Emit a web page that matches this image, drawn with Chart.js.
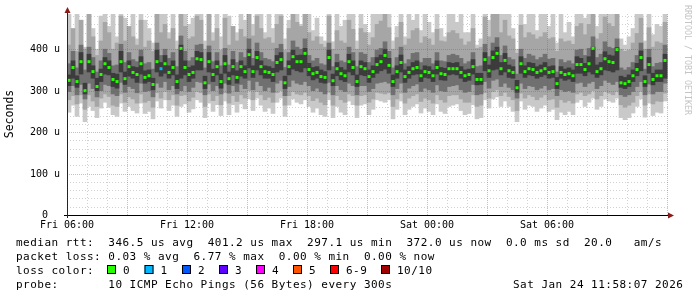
<!DOCTYPE html>
<html>
<head>
<meta charset="utf-8">
<script src="https://cdn.jsdelivr.net/npm/chart.js@4.4.1/dist/chart.umd.min.js"></script>
<style>
  html, body { margin: 0; padding: 0; background: #fff; }
  canvas { display: block; }
</style>
</head>
<body>
<canvas id="smokeChart" width="697" height="297"></canvas>
<script>
// one sample every 12 minutes, first one starts Fri 06:00 (values in microseconds)
const stepHours = 0.2;

const median = [
  325,356,322,370,300,370,346,310,339,365,
  356,327,322,370,329,358,344,339,365,332,
  336,315,370,353,365,344,356,322,402,356,
  339,344,377,375,319,370,339,358,322,365,
  329,358,332,358,346,387,346,380,358,346,
  344,339,368,375,319,358,382,370,370,390,
  351,341,344,334,332,380,324,353,341,336,
  370,356,322,358,353,334,346,363,370,385,
  361,322,346,368,334,344,353,356,336,346,
  344,336,356,341,339,353,353,353,344,336,
  339,358,327,327,375,348,380,390,353,373,
  348,344,307,365,346,353,351,344,348,353,
  344,346,317,344,339,341,336,363,363,351,
  365,402,346,353,377,370,368,399,319,317,
  322,336,351,380,322,363,327,336,336,373
];

// pings closest to the median
const coreLo = [
  312,330,308,340,292,345,330,300,322,340,
  338,310,306,345,315,335,330,320,340,318,
  322,302,345,335,342,330,338,305,330,338,
  322,330,350,350,305,345,322,338,306,342,
  315,338,318,335,330,355,332,350,338,330,
  330,322,345,350,305,338,352,348,345,355,
  336,326,330,320,318,350,312,336,326,322,
  345,338,310,338,336,320,332,342,348,352,
  342,310,330,345,320,330,338,340,322,332,
  330,322,340,326,325,338,340,338,330,322,
  325,340,314,315,348,332,350,352,338,345,
  332,330,296,342,332,338,336,330,334,338,
  330,332,305,330,325,328,322,342,342,336,
  345,340,332,338,350,348,345,350,308,305,
  310,322,336,348,310,342,314,322,322,330
];
const coreHi = [
  338,372,336,392,318,388,360,330,352,380,
  372,342,340,395,345,372,358,356,382,348,
  350,330,398,368,385,360,372,338,410,372,
  356,360,395,392,335,392,352,372,340,385,
  345,375,348,372,360,400,360,395,372,360,
  358,354,385,392,335,372,398,385,386,402,
  366,356,358,350,346,398,340,368,356,350,
  388,372,338,372,368,350,360,380,386,400,
  378,338,360,386,350,358,368,372,350,360,
  358,350,372,356,354,368,366,368,358,350,
  352,375,342,342,392,362,396,405,368,390,
  362,358,325,382,360,368,366,358,362,368,
  358,360,332,358,352,355,350,382,378,366,
  382,405,362,368,394,386,384,404,335,332,
  338,350,366,396,336,380,342,350,350,388
];

const darkLo = [
  298,312,290,315,280,318,305,285,300,315,
  312,292,288,320,296,310,305,295,318,298,
  300,285,318,308,322,302,312,292,300,312,
  298,308,322,320,290,316,300,312,292,318,
  294,312,298,315,305,325,302,322,312,300,
  308,296,318,325,288,310,325,318,315,322,
  312,300,306,298,292,320,290,312,302,298,
  318,312,290,312,312,298,305,318,320,322,
  318,290,305,318,296,306,312,316,298,306,
  302,296,314,300,298,310,312,314,302,296,
  298,315,290,292,322,306,325,328,310,318,
  308,302,282,318,305,312,310,302,306,312,
  302,305,288,302,298,300,296,318,320,310,
  318,322,305,312,325,320,315,322,290,286,
  290,298,310,322,290,316,292,298,298,318
];
const darkHi = [
  365,395,355,410,350,405,380,345,372,400,
  390,360,362,412,368,392,375,370,398,365,
  368,352,415,385,400,378,392,358,432,395,
  372,380,410,412,355,408,370,392,360,402,
  362,395,368,392,380,425,378,415,392,378,
  375,370,402,412,356,392,420,405,400,425,
  385,372,378,365,362,415,358,388,372,368,
  405,392,358,392,388,368,380,398,402,418,
  395,355,380,405,365,375,390,392,368,378,
  378,365,392,372,370,385,388,385,378,365,
  370,392,358,360,412,382,415,428,385,408,
  380,375,340,400,378,388,384,375,380,388,
  376,378,345,375,368,372,365,398,400,385,
  402,430,380,388,418,405,402,425,355,350,
  356,368,385,415,352,400,358,366,368,410
];

const midLo = [
  278,288,268,290,255,290,275,262,282,292,
  286,265,262,292,272,285,280,270,292,272,
  276,260,295,282,298,278,290,265,288,290,
  275,284,298,295,262,292,276,288,266,295,
  270,288,274,290,282,300,278,298,290,278,
  284,272,295,300,265,288,298,292,290,296,
  288,276,282,272,266,296,265,288,278,272,
  292,288,265,288,290,272,280,296,294,292,
  295,262,280,294,270,282,288,292,274,282,
  278,270,290,278,272,288,290,290,280,272,
  272,290,262,265,295,282,298,302,288,296,
  286,278,252,294,282,290,286,278,284,290,
  278,280,260,278,272,276,270,292,296,288,
  292,300,280,288,298,294,290,298,266,260,
  265,272,288,298,265,292,268,275,274,294
];
const midHi = [
  410,450,395,470,400,485,430,385,420,465,
  440,400,415,480,420,455,430,410,470,405,
  420,395,485,440,460,425,450,400,490,455,
  425,430,480,470,400,485,420,450,398,475,
  410,455,420,448,430,490,432,480,450,425,
  428,415,460,480,398,450,490,465,455,490,
  440,420,430,412,405,480,400,445,420,415,
  470,448,400,450,440,410,428,460,468,485,
  452,400,428,465,410,425,445,450,415,430,
  425,410,448,420,418,440,445,438,425,410,
  418,450,402,405,478,430,485,490,440,470,
  432,425,390,458,428,440,435,425,430,440,
  425,428,395,425,418,420,412,455,462,435,
  460,490,425,438,478,462,455,488,400,395,
  398,415,438,475,400,452,405,418,415,465
];

const outerLo = [
  248,265,238,270,225,262,252,235,258,272,
  260,242,238,270,250,262,252,246,270,245,
  250,232,275,258,278,252,265,238,262,268,
  248,256,278,272,235,270,250,266,240,275,
  242,266,248,268,256,280,252,282,265,250,
  258,245,272,282,238,265,280,272,268,278,
  262,248,258,242,238,278,235,262,248,242,
  275,266,235,265,268,242,255,278,275,272,
  278,232,255,275,242,255,262,268,246,258,
  250,242,268,250,245,262,265,268,252,242,
  245,266,232,235,278,258,280,285,262,275,
  262,250,225,275,255,265,262,250,258,265,
  250,255,230,248,242,250,242,272,278,262,
  272,282,255,262,280,275,272,282,235,230,
  235,246,262,280,236,270,240,248,246,275
];
const outerHi = [
  490,420,490,470,405,490,450,400,480,490,
  455,490,430,490,475,440,490,425,490,470,
  450,415,490,490,490,440,490,420,490,490,
  460,475,490,490,420,490,440,490,430,490,
  480,455,440,490,470,490,460,490,490,440,
  490,450,490,490,425,470,490,490,460,490,
  490,445,475,430,420,490,418,490,455,470,
  490,490,420,490,460,440,485,490,490,490,
  490,420,455,490,430,490,470,490,445,490,
  465,440,490,450,430,490,490,465,490,440,
  440,490,410,425,490,470,490,490,490,490,
  490,450,400,490,460,490,485,445,490,490,
  455,490,415,490,440,465,430,490,490,475,
  490,490,455,490,490,490,490,490,425,410,
  430,450,490,490,420,490,435,460,455,490
];

// samples that lost pings
const lossIndex = [23];
const lossPings = [1];

const xTicks = [0, 6, 12, 18, 24];
const xTickLabels = ['Fri 06:00', 'Fri 12:00', 'Fri 18:00', 'Sat 00:00', 'Sat 06:00'];
const yTicks = [0, 100, 200, 300, 400];
const yTickLabels = ['0', '100 u', '200 u', '300 u', '400 u'];

const lossLabels = ['0', '1', '2', '3', '4', '5', '6-9', '10/10'];
const lossColors = ['#26ff00', '#00b8ff', '#0059ff', '#5e00ff', '#ff00ff', '#ff5500', '#ff0000', '#a10000'];

const legendRtt = 'median rtt:  346.5 us avg  401.2 us max  297.1 us min  372.0 us now  0.0 ms sd  20.0   am/s';
const legendLoss = 'packet loss: 0.03 % avg  6.77 % max  0.00 % min  0.00 % now';
const legendProbe = 'probe:       10 ICMP Echo Pings (56 Bytes) every 300s';
const stamp = 'Sat Jan 24 11:58:07 2026';

const MONO = '"DejaVu Sans Mono", "Liberation Mono", monospace';

function band(lo, hi) {
    return lo.map((v, i) => ({ x: (i + 0.5) * stepHours, y: [v, hi[i]] }));
}

function monoText(ctx, str, x, y, adv) {
    for (let k = 0; k < str.length; k++) {
        ctx.fillText(str[k], x + k * adv, y);
    }
}

function drawGrid(chart, major) {
    const ctx = chart.ctx;
    const area = chart.chartArea;
    const xs = chart.scales.x;
    const ys = chart.scales.y;
    ctx.save();
    ctx.lineWidth = 1;
    ctx.setLineDash(major ? [1, 1] : [1, 2]);
    ctx.strokeStyle = major ? 'rgba(210,50,50,0.38)' : 'rgba(140,140,140,0.4)';
    for (let v = 20; v <= ys.max; v += 20) {
        if ((v % 100 === 0) !== major) continue;
        const y = Math.round(ys.getPixelForValue(v)) + 0.5;
        ctx.beginPath();
        ctx.moveTo(area.left, y);
        ctx.lineTo(area.right, y);
        ctx.stroke();
    }
    for (let h = 1; h <= xs.max; h += 1) {
        if ((h % 3 === 0) !== major) continue;
        const x = Math.round(xs.getPixelForValue(h)) + 0.5;
        ctx.beginPath();
        ctx.moveTo(x, area.top);
        ctx.lineTo(x, area.bottom);
        ctx.stroke();
    }
    ctx.restore();
}

const rrdDecor = {
    id: 'rrdDecor',
    beforeDatasetsDraw(chart) {
        drawGrid(chart, false);
    },
    afterDatasetsDraw(chart) {
        drawGrid(chart, true);
    },
    afterDraw(chart) {
        const ctx = chart.ctx;
        const area = chart.chartArea;
        const xs = chart.scales.x;
        const ys = chart.scales.y;
        ctx.save();

        // axes
        ctx.setLineDash([]);
        ctx.lineWidth = 1;
        ctx.strokeStyle = '#000';
        ctx.beginPath();
        ctx.moveTo(area.left - 3, area.bottom + 0.5);
        ctx.lineTo(area.right + 2, area.bottom + 0.5);
        ctx.stroke();
        ctx.strokeStyle = '#3a1c1c';
        ctx.beginPath();
        ctx.moveTo(area.left + 0.5, area.bottom + 3);
        ctx.lineTo(area.left + 0.5, area.top - 3);
        ctx.stroke();

        // arrows
        ctx.fillStyle = '#8b1a1a';
        ctx.beginPath();
        ctx.moveTo(area.left - 2.5, area.top - 1);
        ctx.lineTo(area.left + 3.5, area.top - 1);
        ctx.lineTo(area.left + 0.5, area.top - 7);
        ctx.closePath();
        ctx.fill();
        ctx.beginPath();
        ctx.moveTo(area.right, area.bottom - 2.5);
        ctx.lineTo(area.right, area.bottom + 3.5);
        ctx.lineTo(area.right + 6, area.bottom + 0.5);
        ctx.closePath();
        ctx.fill();

        // tick labels
        ctx.fillStyle = '#000';
        ctx.font = '10px ' + MONO;
        ctx.textBaseline = 'middle';
        ctx.textAlign = 'left';
        yTicks.forEach((v, i) => {
            const lab = yTickLabels[i].length < 5 ? yTickLabels[i].padStart(3) : yTickLabels[i];
            ctx.fillText(lab, 30, ys.getPixelForValue(v) + 0.5);
        });
        ctx.textAlign = 'center';
        ctx.textBaseline = 'alphabetic';
        xTicks.forEach((h, i) => {
            ctx.fillText(xTickLabels[i], xs.getPixelForValue(h), 227.5);
        });

        // axis title
        ctx.save();
        ctx.font = '11.5px ' + MONO;
        ctx.translate(10.5, 114);
        ctx.rotate(-Math.PI / 2);
        ctx.textAlign = 'center';
        ctx.textBaseline = 'middle';
        ctx.fillText('Seconds', 0, 0);
        ctx.restore();

        // watermark
        ctx.save();
        ctx.font = '8.3px ' + MONO;
        ctx.fillStyle = '#c4c4c4';
        ctx.translate(687, 5);
        ctx.rotate(Math.PI / 2);
        ctx.textAlign = 'left';
        ctx.textBaseline = 'middle';
        ctx.fillText('RRDTOOL / TOBI OETIKER', 0, 0);
        ctx.restore();

        // legend
        const adv = 7.1;
        ctx.font = '11px ' + MONO;
        ctx.textAlign = 'left';
        ctx.textBaseline = 'alphabetic';
        ctx.fillStyle = '#000';
        monoText(ctx, legendRtt, 16, 245.5, adv);
        monoText(ctx, legendLoss, 16, 259.5, adv);
        monoText(ctx, 'loss color:', 16, 273.5, adv);
        monoText(ctx, legendProbe, 16, 287.5, adv);
        monoText(ctx, stamp, 16 + 70 * adv, 287.5, adv);

        const boxX = [107, 144.5, 182, 219, 256, 293, 330, 381];
        lossLabels.forEach((lab, i) => {
            ctx.fillStyle = lossColors[i];
            ctx.fillRect(boxX[i], 265, 9, 9);
            ctx.strokeStyle = '#000';
            ctx.strokeRect(boxX[i] + 0.5, 265.5, 8, 8);
            ctx.fillStyle = '#000';
            monoText(ctx, lab, boxX[i] + 16, 273.5, adv);
        });

        ctx.restore();
    }
};

const ctx = document.getElementById('smokeChart').getContext('2d');
const smokeChart = new Chart(ctx, {
    type: 'bar',
    data: {
        datasets: [
            {
                type: 'line',
                label: 'median',
                data: median.map((v, i) => ({ x: (i + 0.5) * stepHours, y: v })),
                showLine: false,
                pointStyle: 'rect',
                pointRadius: 2.1,
                pointBorderWidth: 0,
                pointBackgroundColor: function(c) {
                    const k = lossIndex.indexOf(c.dataIndex);
                    return k >= 0 ? lossColors[lossPings[k]] : lossColors[0];
                },
                order: 0
            },
            { label: 'core', data: band(coreLo, coreHi), backgroundColor: '#3c3c3c', order: 1 },
            { label: 'inner', data: band(darkLo, darkHi), backgroundColor: '#707070', order: 2 },
            { label: 'mid', data: band(midLo, midHi), backgroundColor: '#a6a6a6', order: 3 },
            { label: 'outer', data: band(outerLo, outerHi), backgroundColor: '#c9c9c9', order: 4 }
        ]
    },
    options: {
        responsive: false,
        animation: false,
        devicePixelRatio: 1,
        layout: { padding: { left: 67, right: 29, top: 14, bottom: 82 } },
        datasets: {
            bar: {
                grouped: false,
                barPercentage: 1,
                categoryPercentage: 1,
                borderWidth: 0
            }
        },
        plugins: {
            legend: { display: false },
            tooltip: { enabled: false }
        },
        scales: {
            x: { type: 'linear', min: 0, max: 30.05, offset: false, display: false },
            y: { min: 0, max: 485, display: false }
        }
    },
    plugins: [rrdDecor]
});
</script>
</body>
</html>
